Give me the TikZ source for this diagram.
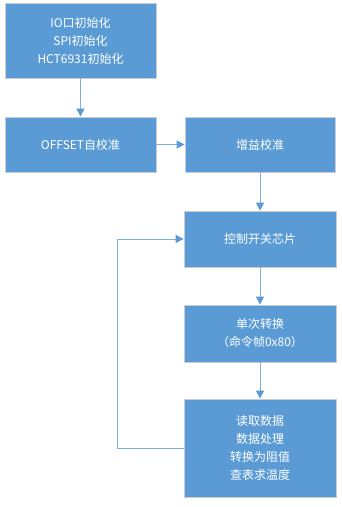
\documentclass[tikz,border=0pt]{standalone}
\usepackage{fontspec}
\newfontfamily\cjk{Noto Sans CJK SC}
\usetikzlibrary{arrows.meta}
\definecolor{boxblue}{HTML}{5B9BD5}
\definecolor{lineblue}{HTML}{7FAEE0}
\definecolor{boxedge}{HTML}{C8CDD3}
\begin{document}
\begin{tikzpicture}[x=1pt,y=-1pt,
    stepbox/.style={rectangle,fill=boxblue,draw=boxedge,line width=0.8pt,
      text=white,font=\cjk\fontsize{12}{18}\selectfont,align=center,
      inner sep=0pt},
    flow/.style={draw=lineblue,line width=1pt,
      -{Triangle[length=8pt,width=8pt,color=boxblue]}}]
    \useasboundingbox (0,0) rectangle (342,507);
    % --- boxes ---
    \node[stepbox,minimum width=151,minimum height=75] (init) at (80.5,40.5)
      {IO口初始化\\SPI初始化\\HCT6931初始化};
    \node[stepbox,minimum width=151,minimum height=55] (offset) at (80.5,144.5)
      {OFFSET自校准};
    \node[stepbox,minimum width=150,minimum height=55] (gain) at (260,144.5)
      {增益校准};
    \node[stepbox,minimum width=152,minimum height=56] (switch) at (260,239)
      {控制开关芯片};
    \node[stepbox,minimum width=152,minimum height=57] (conv) at (260,333.5)
      {单次转换\\（命令帧0x80）};
    \node[stepbox,minimum width=152,minimum height=98] (read) at (260,448)
      {读取数据\\数据处理\\转换为阻值\\查表求温度};
    % --- connectors ---
    \draw[flow] (init) -- (offset);
    \draw[flow] (offset) -- (gain);
    \foreach \a/\b in {gain/switch,switch/conv,conv/read}
      \draw[flow] (\a) -- (\b);
    % back to the switch, round the left side
    \draw[flow] (read.west) -- ++(-66,0) |- (switch.west);
\end{tikzpicture}
\end{document}
